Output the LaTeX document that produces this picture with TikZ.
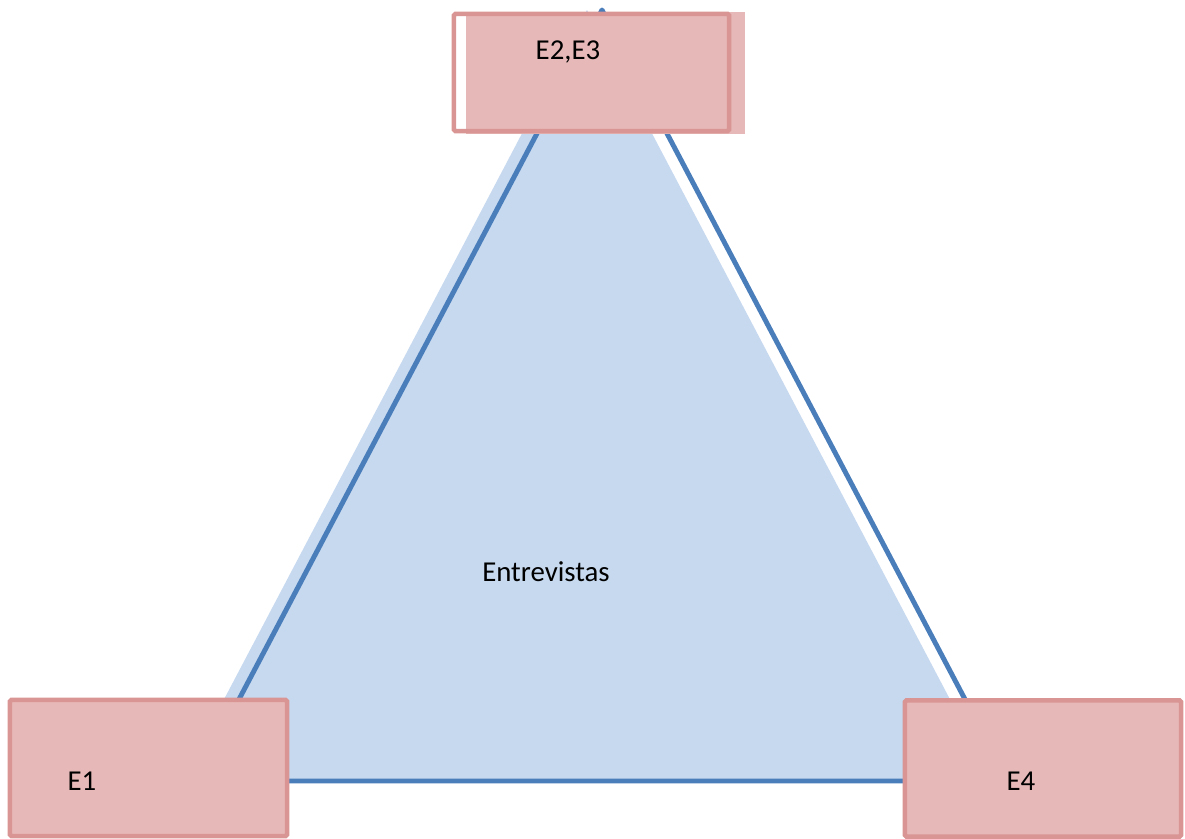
\documentclass[tikz,border=0pt]{standalone}
\usepackage{fontspec}
\setmainfont{Carlito}
\definecolor{trifill}{HTML}{C6D9EF}
\definecolor{triline}{HTML}{4A7EBB}
\definecolor{boxfill}{HTML}{E6B8B7}
\definecolor{boxline}{HTML}{D99594}
\begin{document}
\begin{tikzpicture}[x=0.025cm,y=-0.025cm,
    box/.style={draw=boxline, line width=3.2pt, rounded corners=1pt, inner sep=0pt},
    boxbg/.style={fill=boxfill, inner sep=0pt},
    lbl/.style={font=\fontsize{20.5}{24}\selectfont, inner sep=0pt}]
  \useasboundingbox (0,0) rectangle (1185,839);
  % triangle (fill sits a bit to the left of the outline)
  \coordinate (top) at (602,10);
  \coordinate (bl) at (196,781);
  \coordinate (br) at (1008,781);
  \fill[trifill] ([xshift=-15*0.025cm]top) -- ([xshift=-15*0.025cm]bl) -- ([xshift=-15*0.025cm]br) -- cycle;
  \draw[triline, line width=3.5pt, line join=round] (top) -- (bl) -- (br) -- cycle;
  \node[lbl] (entrev) at (546,572) {Entrevistas};
  % boxes
  \node[boxbg, minimum width=6.975cm, minimum height=3.05cm] (e23bg) at (605.5,73) {};
  \node[box, minimum width=6.875cm, minimum height=2.925cm] (e23) at (591.5,72.5) {};
  \node[box, fill=boxfill, minimum width=6.925cm, minimum height=3.4cm] (e1) at (148.5,768) {};
  \node[box, fill=boxfill, minimum width=6.9cm, minimum height=3.4cm] (e4) at (1043,768.5) {};
  \node[lbl] at (568,52) {E2,E3};
  \node[lbl] at (82,781) {E1};
  \node[lbl] at (1021,781) {E4};
\end{tikzpicture}
\end{document}
